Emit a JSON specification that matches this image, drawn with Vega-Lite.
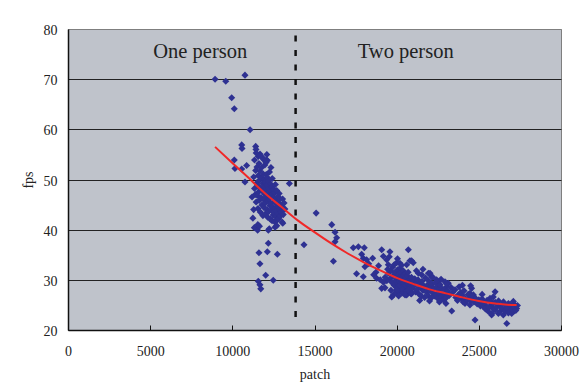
{
  "$schema": "https://vega.github.io/schema/vega-lite/v6.json",
  "width": 493,
  "height": 301,
  "autosize": {"type": "none"},
  "padding": {"left": 68, "top": 29, "right": 24, "bottom": 57},
  "background": "white",
  "config": {
    "view": {"fill": "#BFC3CB", "stroke": "#7F7F7F", "strokeWidth": 1},
    "axis": {
      "labelFont": "Liberation Serif",
      "labelFontSize": 14,
      "labelColor": "#222",
      "titleFont": "Liberation Serif",
      "titleFontSize": 14,
      "titleFontWeight": "normal",
      "titleColor": "#222"
    }
  },
  "datasets": {
    "pts": [
      {"patch":8950,"fps":70.0},{"patch":9600,"fps":69.6},{"patch":10770,"fps":70.8},{"patch":9960,"fps":66.3},{"patch":10120,"fps":64.1},
      {"patch":11080,"fps":59.9},{"patch":10570,"fps":56.9},{"patch":10590,"fps":56.2},{"patch":11420,"fps":56.6},{"patch":10120,"fps":53.9},
      {"patch":12130,"fps":53.8},{"patch":10870,"fps":52.8},{"patch":10570,"fps":52.1},{"patch":10770,"fps":49.5},{"patch":13470,"fps":49.2},
      {"patch":15100,"fps":43.3},{"patch":14360,"fps":37.0},{"patch":11340,"fps":40.4},{"patch":11540,"fps":39.9},{"patch":12190,"fps":39.9},
      {"patch":12600,"fps":40.5},{"patch":13070,"fps":41.3},{"patch":12190,"fps":37.3},{"patch":11620,"fps":35.4},{"patch":12130,"fps":35.6},
      {"patch":12740,"fps":35.1},{"patch":11680,"fps":33.2},{"patch":12030,"fps":30.9},{"patch":11580,"fps":29.7},{"patch":11680,"fps":29.0},
      {"patch":11730,"fps":28.2},{"patch":12490,"fps":29.9},{"patch":11440,"fps":56.0},{"patch":11684,"fps":55.1},{"patch":11580,"fps":54.6},
      {"patch":11884,"fps":54.2},{"patch":12090,"fps":53.9},{"patch":10160,"fps":52.2},
      {"patch":11300,"fps":50.5},{"patch":11350,"fps":48.2},{"patch":11400,"fps":47.0},{"patch":11420,"fps":51.8},{"patch":11450,"fps":45.5},
      {"patch":11480,"fps":49.3},{"patch":11500,"fps":52.5},{"patch":11520,"fps":46.8},{"patch":11550,"fps":48.8},{"patch":11560,"fps":44.2},
      {"patch":11580,"fps":50.8},{"patch":11600,"fps":47.5},{"patch":11620,"fps":53.2},{"patch":11640,"fps":45.8},{"patch":11660,"fps":49.9},
      {"patch":11680,"fps":51.7},{"patch":11700,"fps":43.5},{"patch":11720,"fps":48.1},{"patch":11740,"fps":46.4},{"patch":11760,"fps":50.3},
      {"patch":11780,"fps":52.4},{"patch":11800,"fps":44.9},{"patch":11820,"fps":47.7},{"patch":11840,"fps":49.2},{"patch":11860,"fps":42.8},
      {"patch":11880,"fps":51.1},{"patch":11900,"fps":46.0},{"patch":11910,"fps":48.6},{"patch":11930,"fps":44.4},{"patch":11950,"fps":50.0},
      {"patch":11960,"fps":47.1},{"patch":11980,"fps":52.9},{"patch":12000,"fps":45.3},{"patch":12010,"fps":49.5},{"patch":12030,"fps":43.2},
      {"patch":12050,"fps":47.9},{"patch":12060,"fps":51.0},{"patch":12080,"fps":46.5},{"patch":12100,"fps":48.9},{"patch":12110,"fps":44.0},
      {"patch":12130,"fps":50.4},{"patch":12150,"fps":42.5},{"patch":12160,"fps":47.3},{"patch":12180,"fps":45.7},{"patch":12200,"fps":49.7},
      {"patch":12210,"fps":43.6},{"patch":12230,"fps":48.2},{"patch":12250,"fps":46.1},{"patch":12260,"fps":51.5},{"patch":12280,"fps":44.8},
      {"patch":12300,"fps":47.6},{"patch":12310,"fps":42.1},{"patch":12330,"fps":49.1},{"patch":12350,"fps":45.2},{"patch":12360,"fps":46.9},
      {"patch":12380,"fps":43.9},{"patch":12400,"fps":48.5},{"patch":12420,"fps":41.8},{"patch":12430,"fps":50.2},{"patch":12450,"fps":44.5},
      {"patch":12470,"fps":47.0},{"patch":12480,"fps":42.9},{"patch":12500,"fps":46.3},{"patch":12520,"fps":48.0},{"patch":12530,"fps":43.4},
      {"patch":12550,"fps":45.6},{"patch":12570,"fps":41.6},{"patch":12580,"fps":47.4},{"patch":12600,"fps":44.2},{"patch":12620,"fps":49.0},
      {"patch":12640,"fps":42.6},{"patch":12650,"fps":46.0},{"patch":12670,"fps":43.8},{"patch":12690,"fps":45.1},{"patch":12700,"fps":47.8},
      {"patch":12720,"fps":41.9},{"patch":12740,"fps":44.6},{"patch":12760,"fps":46.6},{"patch":12780,"fps":43.1},{"patch":12800,"fps":45.4},
      {"patch":12820,"fps":42.2},{"patch":12850,"fps":47.2},{"patch":12870,"fps":44.0},{"patch":12900,"fps":46.2},{"patch":12920,"fps":42.7},
      {"patch":12950,"fps":45.0},{"patch":12980,"fps":43.5},{"patch":13000,"fps":44.7},{"patch":13030,"fps":41.5},{"patch":13060,"fps":46.1},
      {"patch":13100,"fps":43.0},{"patch":13150,"fps":45.3},{"patch":13200,"fps":44.1},{"patch":11350,"fps":53.9},{"patch":11450,"fps":55.3},
      {"patch":11700,"fps":54.8},{"patch":11900,"fps":54.0},{"patch":12050,"fps":53.4},{"patch":11550,"fps":41.0},{"patch":11650,"fps":40.7},
      {"patch":12250,"fps":40.2},{"patch":12700,"fps":40.8},{"patch":12350,"fps":52.4},{"patch":12100,"fps":55.0},{"patch":11250,"fps":42.3},
      {"patch":11300,"fps":44.0},{"patch":11200,"fps":46.5},
      {"patch":16050,"fps":41.0},{"patch":16250,"fps":39.5},{"patch":16350,"fps":38.4},{"patch":16250,"fps":37.6},{"patch":16150,"fps":33.7},
      {"patch":17360,"fps":36.4},{"patch":17670,"fps":36.6},{"patch":18030,"fps":36.4},{"patch":17870,"fps":35.1},{"patch":17970,"fps":34.3},
      {"patch":18170,"fps":34.0},{"patch":18540,"fps":34.3},{"patch":17560,"fps":31.2},{"patch":17970,"fps":30.6},{"patch":18070,"fps":32.6},
      {"patch":18740,"fps":31.5},{"patch":18780,"fps":30.3},{"patch":19090,"fps":36.0},{"patch":19190,"fps":34.7},{"patch":19390,"fps":34.0},
      {"patch":19490,"fps":33.0},{"patch":19590,"fps":35.6},{"patch":19550,"fps":34.6},{"patch":20200,"fps":33.3},{"patch":20610,"fps":33.0},
      {"patch":20710,"fps":36.0},{"patch":19490,"fps":31.3},{"patch":20000,"fps":31.0},{"patch":20200,"fps":31.6},{"patch":19090,"fps":28.3},
      {"patch":19290,"fps":28.4},{"patch":19700,"fps":26.6},{"patch":19800,"fps":27.0},{"patch":20610,"fps":27.0},{"patch":20000,"fps":33.4},
      {"patch":20810,"fps":33.8},{"patch":21010,"fps":33.4},{"patch":20910,"fps":33.8},
      {"patch":19600,"fps":30.2},{"patch":19650,"fps":31.8},{"patch":19700,"fps":29.5},{"patch":19750,"fps":32.5},{"patch":19800,"fps":30.8},
      {"patch":19850,"fps":28.9},{"patch":19900,"fps":31.4},{"patch":19950,"fps":29.9},{"patch":20000,"fps":30.5},{"patch":20020,"fps":28.4},
      {"patch":20050,"fps":32.0},{"patch":20080,"fps":29.2},{"patch":20100,"fps":31.0},{"patch":20130,"fps":30.1},{"patch":20150,"fps":27.8},
      {"patch":20180,"fps":29.6},{"patch":20200,"fps":32.3},{"patch":20230,"fps":30.7},{"patch":20250,"fps":28.8},{"patch":20280,"fps":31.5},
      {"patch":20300,"fps":29.9},{"patch":20330,"fps":27.4},{"patch":20350,"fps":30.4},{"patch":20380,"fps":28.6},{"patch":20400,"fps":31.8},
      {"patch":20430,"fps":29.3},{"patch":20450,"fps":30.9},{"patch":20480,"fps":28.0},{"patch":20500,"fps":29.7},{"patch":20530,"fps":31.2},
      {"patch":20550,"fps":28.9},{"patch":20580,"fps":30.3},{"patch":20600,"fps":27.9},{"patch":20630,"fps":29.5},{"patch":20650,"fps":30.8},
      {"patch":20680,"fps":28.4},{"patch":20700,"fps":31.5},{"patch":20730,"fps":29.1},{"patch":20750,"fps":27.6},{"patch":20780,"fps":30.0},
      {"patch":20800,"fps":28.7},{"patch":20850,"fps":29.8},{"patch":20880,"fps":27.2},{"patch":20900,"fps":30.5},{"patch":20950,"fps":28.3},
      {"patch":21000,"fps":29.5},{"patch":19850,"fps":33.0},{"patch":20050,"fps":34.2},{"patch":19950,"fps":27.5},{"patch":20300,"fps":32.9},
      {"patch":20120,"fps":26.8},{"patch":19650,"fps":27.9},{"patch":19400,"fps":29.8},{"patch":19300,"fps":30.5},{"patch":19450,"fps":32.1},
      {"patch":19200,"fps":29.5},{"patch":18900,"fps":32.8},{"patch":18600,"fps":31.0},{"patch":18300,"fps":33.2},{"patch":19000,"fps":30.0},
      {"patch":20910,"fps":27.3},{"patch":20710,"fps":28.0},{"patch":20510,"fps":27.0},{"patch":20300,"fps":28.3},{"patch":20100,"fps":28.6},
      {"patch":20000,"fps":28.0},
      {"patch":21320,"fps":31.3},{"patch":21520,"fps":31.0},{"patch":21930,"fps":31.3},{"patch":22130,"fps":30.6},{"patch":22530,"fps":29.6},
      {"patch":22940,"fps":29.6},{"patch":23140,"fps":29.3},{"patch":23040,"fps":28.6},{"patch":22030,"fps":31.3},{"patch":22430,"fps":30.0},
      {"patch":23040,"fps":29.3},{"patch":23350,"fps":23.8},
      {"patch":21050,"fps":28.8},{"patch":21100,"fps":30.2},{"patch":21150,"fps":27.6},{"patch":21200,"fps":29.4},{"patch":21250,"fps":28.1},
      {"patch":21300,"fps":30.0},{"patch":21350,"fps":27.2},{"patch":21400,"fps":29.1},{"patch":21450,"fps":28.4},{"patch":21500,"fps":26.8},
      {"patch":21550,"fps":29.7},{"patch":21600,"fps":27.9},{"patch":21650,"fps":28.8},{"patch":21700,"fps":26.5},{"patch":21750,"fps":30.4},
      {"patch":21800,"fps":27.6},{"patch":21850,"fps":28.9},{"patch":21900,"fps":26.9},{"patch":21950,"fps":29.8},{"patch":22000,"fps":27.9},
      {"patch":22050,"fps":28.6},{"patch":22100,"fps":26.4},{"patch":22150,"fps":29.2},{"patch":22200,"fps":27.4},{"patch":22250,"fps":28.3},
      {"patch":22300,"fps":26.8},{"patch":22350,"fps":29.4},{"patch":22400,"fps":27.0},{"patch":22450,"fps":28.5},{"patch":22500,"fps":26.3},
      {"patch":22550,"fps":28.0},{"patch":22600,"fps":27.3},{"patch":22650,"fps":29.0},{"patch":22700,"fps":26.6},{"patch":22750,"fps":28.2},
      {"patch":22800,"fps":27.0},{"patch":22850,"fps":26.0},{"patch":22900,"fps":28.1},{"patch":22950,"fps":27.2},{"patch":23000,"fps":26.4},
      {"patch":23100,"fps":27.8},{"patch":23200,"fps":26.9},{"patch":23300,"fps":28.5},{"patch":23400,"fps":27.5},{"patch":21200,"fps":31.8},
      {"patch":21600,"fps":32.1},{"patch":22200,"fps":30.5},{"patch":22700,"fps":30.1},{"patch":21400,"fps":25.9},{"patch":22000,"fps":25.8},
      {"patch":22600,"fps":25.6},{"patch":23000,"fps":25.3},
      {"patch":23550,"fps":28.0},{"patch":23750,"fps":27.0},{"patch":23950,"fps":26.3},{"patch":24560,"fps":28.3},{"patch":24460,"fps":27.3},
      {"patch":24670,"fps":27.0},{"patch":24560,"fps":26.0},{"patch":24770,"fps":22.0},{"patch":25170,"fps":25.7},{"patch":25380,"fps":25.0},
      {"patch":25680,"fps":24.7},{"patch":25780,"fps":25.3},{"patch":25990,"fps":27.6},{"patch":25880,"fps":26.6},{"patch":25580,"fps":23.7},
      {"patch":25780,"fps":23.0},{"patch":25990,"fps":24.0},{"patch":26190,"fps":23.3},{"patch":26490,"fps":23.0},{"patch":26700,"fps":21.3},
      {"patch":26590,"fps":25.0},{"patch":26800,"fps":25.3},{"patch":27000,"fps":24.7},{"patch":27100,"fps":25.7},{"patch":27300,"fps":24.3},
      {"patch":26900,"fps":24.0},{"patch":27100,"fps":23.7},{"patch":27200,"fps":25.0},{"patch":23850,"fps":26.6},{"patch":24160,"fps":25.3},
      {"patch":24460,"fps":25.0},{"patch":25070,"fps":25.3},{"patch":25270,"fps":24.7},{"patch":25680,"fps":26.3},{"patch":25880,"fps":25.3},
      {"patch":25780,"fps":23.3},{"patch":26290,"fps":23.7},{"patch":27000,"fps":23.3},
      {"patch":23600,"fps":26.5},{"patch":23700,"fps":25.9},{"patch":23800,"fps":28.6},{"patch":23900,"fps":27.5},{"patch":24000,"fps":26.9},
      {"patch":24050,"fps":25.6},{"patch":24100,"fps":27.8},{"patch":24200,"fps":26.2},{"patch":24300,"fps":25.9},{"patch":24350,"fps":27.1},
      {"patch":24400,"fps":26.4},{"patch":24500,"fps":25.8},{"patch":24600,"fps":26.7},{"patch":24700,"fps":25.6},{"patch":24800,"fps":26.3},
      {"patch":24900,"fps":25.2},{"patch":25000,"fps":26.0},{"patch":25100,"fps":24.8},{"patch":25200,"fps":26.2},{"patch":25300,"fps":25.4},
      {"patch":25400,"fps":24.2},{"patch":25500,"fps":25.9},{"patch":25600,"fps":24.5},{"patch":25700,"fps":25.8},{"patch":25900,"fps":24.2},
      {"patch":26000,"fps":25.5},{"patch":26100,"fps":24.6},{"patch":26200,"fps":25.8},{"patch":26300,"fps":24.9},{"patch":26400,"fps":24.3},
      {"patch":26500,"fps":25.6},{"patch":26600,"fps":23.8},{"patch":26700,"fps":24.5},{"patch":26800,"fps":23.4},{"patch":26900,"fps":25.0},
      {"patch":27050,"fps":24.0},{"patch":27150,"fps":24.6},{"patch":27250,"fps":23.9},{"patch":27350,"fps":24.9},{"patch":24000,"fps":28.9},
      {"patch":24500,"fps":28.8},{"patch":25200,"fps":27.1}
    ],
    "trend": [
      {"patch":8950,"fps":56.5},{"patch":10000,"fps":53.3},{"patch":11000,"fps":50.3},{"patch":11500,"fps":48.7},{"patch":12000,"fps":47.2},
      {"patch":13000,"fps":44.5},{"patch":14000,"fps":41.8},{"patch":15000,"fps":39.5},{"patch":16000,"fps":37.3},{"patch":17000,"fps":35.3},
      {"patch":18000,"fps":33.5},{"patch":19000,"fps":31.9},{"patch":20000,"fps":30.4},{"patch":21000,"fps":29.2},{"patch":22000,"fps":28.1},
      {"patch":23000,"fps":27.3},{"patch":24000,"fps":26.5},{"patch":25000,"fps":25.8},{"patch":26000,"fps":25.3},{"patch":27000,"fps":25.0},
      {"patch":27300,"fps":25.0}
    ],
    "divider": [{"patch":13850,"lo":22.6,"hi":79}],
    "labels": [
      {"patch":8050,"fps":74.2,"text":"One person"},
      {"patch":20550,"fps":74.2,"text":"Two person"}
    ]
  },
  "encoding": {
    "x": {
      "field": "patch", "type": "quantitative",
      "scale": {"domain": [0, 30000], "nice": false, "zero": false},
      "axis": {
        "title": "patch",
        "values": [0, 5000, 10000, 15000, 20000, 25000, 30000],
        "grid": false,
        "format": "d",
        "domainColor": "#111", "domainWidth": 1.5,
        "tickColor": "#111", "tickSize": -5, "tickWidth": 1,
        "labelPadding": 19, "labelFlush": false,
        "titlePadding": 9
      }
    },
    "y": {
      "field": "fps", "type": "quantitative",
      "scale": {"domain": [20, 80], "nice": false, "zero": false},
      "axis": {
        "title": "fps",
        "values": [20, 30, 40, 50, 60, 70, 80],
        "grid": true,
        "gridColor": {"condition": {"test": "datum.value === 80 || datum.value === 20", "value": "#7F7F7F"}, "value": "#222"},
        "gridWidth": 1,
        "gridOpacity": 1,
        "domainColor": "#111", "domainWidth": 1.5,
        "ticks": false,
        "labelPadding": 11, "labelFlush": false, "labelOffset": 1.5,
        "titlePadding": 8
      }
    }
  },
  "layer": [
    {
      "data": {"name": "pts"},
      "mark": {"type": "point", "shape": "diamond", "filled": true, "size": 50, "color": "#2E3192", "opacity": 1, "strokeWidth": 0}
    },
    {
      "data": {"name": "trend"},
      "mark": {"type": "line", "color": "#F02828", "strokeWidth": 2, "interpolate": "monotone"}
    },
    {
      "data": {"name": "divider"},
      "mark": {"type": "rule", "color": "#111", "strokeWidth": 2.5, "strokeDash": [6, 8.5]},
      "encoding": {
        "y": {"field": "lo", "type": "quantitative"},
        "y2": {"field": "hi"}
      }
    },
    {
      "data": {"name": "labels"},
      "mark": {"type": "text", "font": "Liberation Serif", "fontSize": 20.5, "color": "#222", "align": "center", "baseline": "alphabetic"},
      "encoding": {"text": {"field": "text"}}
    }
  ]
}
